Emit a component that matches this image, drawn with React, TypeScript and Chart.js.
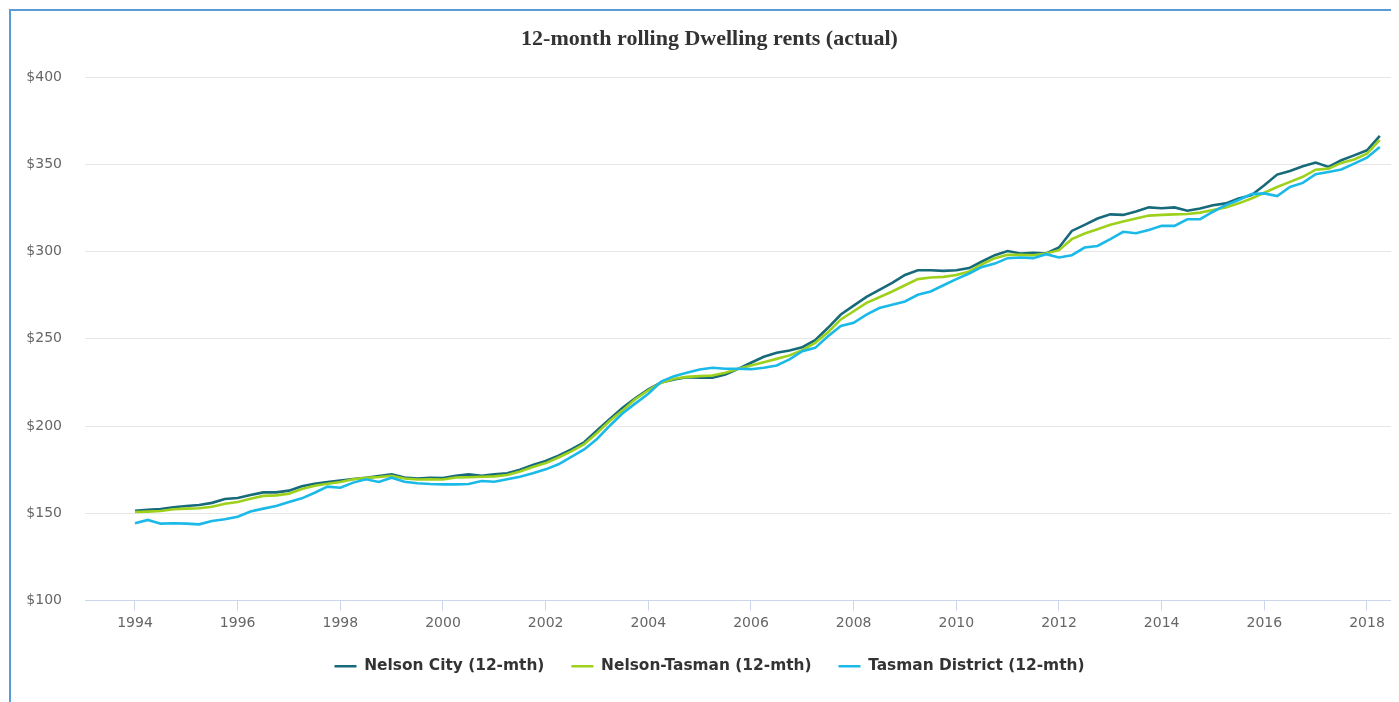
import React, { useEffect, useRef } from "react";
import { Chart, registerables } from "chart.js";

Chart.register(...registerables);

const TITLE = "12-month rolling Dwelling rents (actual)";
const SERIES_NAMES = ["Nelson City (12-mth)", "Nelson-Tasman (12-mth)", "Tasman District (12-mth)"];

const QUARTERS = [
  "1994 Q1", "1994 Q2", "1994 Q3", "1994 Q4",
  "1995 Q1", "1995 Q2", "1995 Q3", "1995 Q4",
  "1996 Q1", "1996 Q2", "1996 Q3", "1996 Q4",
  "1997 Q1", "1997 Q2", "1997 Q3", "1997 Q4",
  "1998 Q1", "1998 Q2", "1998 Q3", "1998 Q4",
  "1999 Q1", "1999 Q2", "1999 Q3", "1999 Q4",
  "2000 Q1", "2000 Q2", "2000 Q3", "2000 Q4",
  "2001 Q1", "2001 Q2", "2001 Q3", "2001 Q4",
  "2002 Q1", "2002 Q2", "2002 Q3", "2002 Q4",
  "2003 Q1", "2003 Q2", "2003 Q3", "2003 Q4",
  "2004 Q1", "2004 Q2", "2004 Q3", "2004 Q4",
  "2005 Q1", "2005 Q2", "2005 Q3", "2005 Q4",
  "2006 Q1", "2006 Q2", "2006 Q3", "2006 Q4",
  "2007 Q1", "2007 Q2", "2007 Q3", "2007 Q4",
  "2008 Q1", "2008 Q2", "2008 Q3", "2008 Q4",
  "2009 Q1", "2009 Q2", "2009 Q3", "2009 Q4",
  "2010 Q1", "2010 Q2", "2010 Q3", "2010 Q4",
  "2011 Q1", "2011 Q2", "2011 Q3", "2011 Q4",
  "2012 Q1", "2012 Q2", "2012 Q3", "2012 Q4",
  "2013 Q1", "2013 Q2", "2013 Q3", "2013 Q4",
  "2014 Q1", "2014 Q2", "2014 Q3", "2014 Q4",
  "2015 Q1", "2015 Q2", "2015 Q3", "2015 Q4",
  "2016 Q1", "2016 Q2", "2016 Q3", "2016 Q4",
  "2017 Q1", "2017 Q2", "2017 Q3", "2017 Q4",
  "2018 Q1", "2018 Q2",
];

const NELSON_CITY = [
  151.5, 152, 152.5, 153.5, 154.2, 154.8, 156, 158.2,
  158.8, 160.5, 162, 162, 163, 165.5, 167, 168,
  168.8, 169.7, 170.3, 171.3, 172.3, 170.5, 170, 170.4,
  170.2, 171.5, 172.3, 171.5, 172.3, 173, 175, 177.7,
  180, 183, 186.6, 190.7, 197.5, 204, 210.5, 216,
  221, 225, 226.7, 228, 227.7, 227.7, 229.5, 232.8,
  236.3, 239.7, 242, 243.3, 245.2, 249.2, 256.3, 263.9,
  269, 274, 278, 282, 286.6, 289.3, 289.3, 288.9,
  289.3, 290.5, 294.3, 297.9, 300.3, 298.9, 299.3, 298.9,
  302.3, 311.8, 315.3, 318.9, 321.3, 321, 323, 325.3,
  324.8, 325.3, 323.4, 324.7, 326.5, 327.6, 330.4, 332.3,
  338, 344.1, 346.2, 348.9, 351, 348.5, 352.3, 355.1,
  358, 366.2,
];

const NELSON_TASMAN = [
  150.8, 151, 151.3, 152.3, 152.7, 152.9, 153.8, 155.5,
  156.5, 158.4, 160, 160.3, 161.3, 163.9, 165.8, 167,
  168, 169.5, 170.3, 170.8, 171.5, 170, 169.4, 169.5,
  169.4, 170.5, 170.7, 171, 171.2, 172, 174, 176.5,
  178.8, 182, 185.5, 189.6, 196, 203, 209, 215.5,
  220.5, 224.8, 227.1, 228.2, 228.6, 229, 230.5, 232.8,
  234.7, 236.6, 238.5, 240.5, 243.5, 247.7, 253.8, 261.1,
  265.8, 270.6, 273.8, 277.1, 280.7, 284.2, 285.1, 285.5,
  286.6, 288.6, 292.7, 296.2, 298.1, 298.1, 297.9, 298.9,
  300.8, 307.1, 310.3, 312.8, 315.3, 317.2, 318.9, 320.6,
  321, 321.3, 321.5, 322.3, 323.8, 325.3, 327.6, 330.4,
  333.7, 337, 339.9, 342.8, 346.9, 347.5, 350.8, 352.7,
  356.1, 364,
];

const TASMAN_DISTRICT = [
  144.3, 146.2, 144.1, 144.3, 144.1, 143.7, 145.6, 146.6,
  148.1, 151, 152.7, 154.2, 156.5, 158.6, 161.8, 165.3,
  164.7, 167.6, 169.5, 168, 170.4, 168.1, 167.2, 166.8,
  166.6, 166.6, 166.8, 168.5, 168.1, 169.5, 171, 172.9,
  175.2, 178.1, 182.4, 186.6, 192.6, 200.2, 207.3, 213,
  218.5, 225.5, 228.6, 230.5, 232.4, 233.4, 232.8, 232.8,
  232.6, 233.4, 234.7, 238.2, 242.9, 244.8, 251.5, 257.3,
  259.2, 263.9, 267.6, 269.5, 271.4, 275.2, 277.1, 280.7,
  284.2, 287.4, 291.2, 293.1, 296.2, 296.6, 296.2, 298.5,
  296.6, 297.9, 302.3, 303.2, 307.1, 311.3, 310.5, 312.4,
  314.7, 314.7, 318.5, 318.5, 322.8, 326.6, 329.5, 332.9,
  333.3, 331.8, 337, 339.3, 344.3, 345.6, 347, 350.4,
  353.8, 359.9,
];

const X_TICKS = [1994, 1996, 1998, 2000, 2002, 2004, 2006, 2008, 2010, 2012, 2014, 2016, 2018];
const Y_TICKS = [100, 150, 200, 250, 300, 350, 400];

const COLORS = ["#176A7A", "#9DD11C", "#1BB9E8"];

export default function App() {
  const ref = useRef<HTMLCanvasElement | null>(null);

  useEffect(() => {
    const xs = QUARTERS.map((q) => {
      const [yr, qq] = q.split(" Q");
      return Number(yr) + (Number(qq) - 1) / 4;
    });
    const toPoints = (vals: number[]) => vals.map((v, i) => ({ x: xs[i], y: v }));
    const seriesValues = [NELSON_CITY, NELSON_TASMAN, TASMAN_DISTRICT];

    const tickFont = { family: "'DejaVu Sans', sans-serif", size: 14 };

    const chart = new Chart(ref.current as HTMLCanvasElement, {
      type: "line",
      data: {
        datasets: seriesValues.map((vals, i) => ({
          label: SERIES_NAMES[i],
          data: toPoints(vals),
          borderColor: COLORS[i],
          backgroundColor: COLORS[i],
          borderWidth: 2.6,
          pointRadius: 0,
          pointHoverRadius: 0,
          tension: 0,
          fill: false,
          order: 3 - i,
        })),
      },
      options: {
        responsive: false,
        animation: false,
        events: [],
        layout: { padding: { left: 18, right: 17, top: 0, bottom: 18 } },
        plugins: {
          title: {
            display: true,
            text: TITLE,
            color: "#333333",
            font: { family: "'Liberation Serif', serif", size: 22, weight: "bold", lineHeight: 1.2 },
            padding: { top: 18, bottom: 24.6 },
          },
          legend: {
            position: "bottom",
            labels: {
              usePointStyle: true,
              pointStyle: "line",
              pointStyleWidth: 22,
              boxWidth: 22,
              padding: 27,
              color: "#333333",
              font: { family: "'DejaVu Sans', sans-serif", size: 15.4, weight: "bold" },
              sort: (a: any, b: any) => a.datasetIndex - b.datasetIndex,
            },
          },
          tooltip: { enabled: false },
        },
        scales: {
          x: {
            type: "linear",
            min: 1993.026,
            max: 2018.507,
            afterBuildTicks: (s: any) => {
              s.ticks = X_TICKS.map((v) => ({ value: v }));
            },
            afterFit: (s: any) => {
              s.height = 31;
            },
            grid: { drawOnChartArea: false, drawTicks: true, tickLength: 10, color: "#CCD6EB" },
            border: { color: "#CCD6EB", width: 1 },
            ticks: {
              padding: 4,
              color: "#666666",
              font: tickFont,
              maxRotation: 0,
              autoSkip: false,
              callback: (v: any) => String(v),
            },
          },
          y: {
            min: 100,
            max: 400,
            afterBuildTicks: (s: any) => {
              s.ticks = Y_TICKS.map((v) => ({ value: v }));
            },
            afterFit: (s: any) => {
              s.width = 59;
            },
            grid: { color: "#E6E6E6", drawTicks: false },
            border: { display: false },
            ticks: {
              padding: 23,
              color: "#666666",
              font: tickFont,
              callback: (v: any) => "$" + v,
            },
          },
        },
      },
    } as any);

    return () => chart.destroy();
  }, []);

  return (
    <div style={{ position: "relative", width: 1391, height: 694, overflow: "hidden", background: "#ffffff" }}>
      <div
        style={{
          position: "absolute",
          left: 1,
          top: 1,
          width: 2000,
          height: 2000,
          borderLeft: "2px solid #5B9BD5",
          borderTop: "2px solid #5B9BD5",
          boxSizing: "border-box",
        }}
      />
      <canvas ref={ref} width={1402} height={694} style={{ position: "absolute", left: 0, top: 0, width: 1402, height: 694 }} />
    </div>
  );
}
